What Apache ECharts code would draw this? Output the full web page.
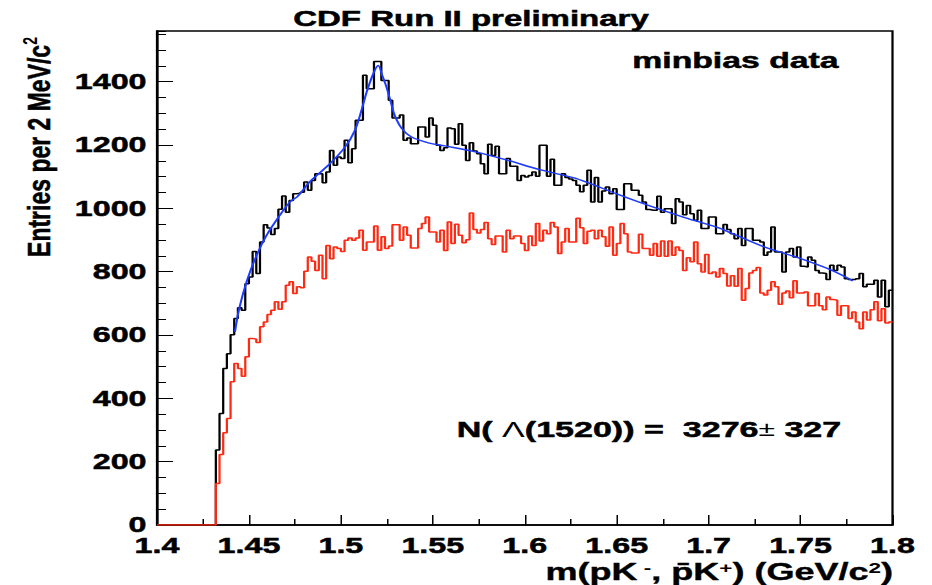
<!DOCTYPE html>
<html><head><meta charset="utf-8">
<script src="https://cdn.jsdelivr.net/npm/echarts@6/dist/echarts.min.js"></script>
<style>
html,body{margin:0;padding:0;background:#fff;overflow:hidden;width:932px;height:585px;}
#main{width:621.333px;height:585px;transform:scaleX(1.5);transform-origin:0 0;}
</style></head><body><div id="main"></div>
<script>
// ---- data ----
const massMin = 1.4, massMax = 1.8, binWidth = 0.002;

// black histogram: minbias data, entries per 2 MeV bin (200 bins, 1.400-1.800)
const dataCounts = [
  0,0,0,0,0,0,0,0,0,0,0,0,0,0,0,0,
  237,352,494,541,601,652,686,678,762,783,864,794,894,948,938,917,936,997,1039,988,
  1025,1046,1048,1051,1083,1057,1088,1109,1109,1081,1115,1183,1136,1162,1157,1215,1144,1188,1278,1278,
  1420,1378,1378,1464,1464,1404,1404,1341,1285,1285,1295,1215,1222,1204,1204,1257,1257,1225,1285,1262,
  1199,1183,1191,1254,1251,1202,1267,1199,1151,1207,1181,1172,1141,1109,1202,1167,1196,1109,1109,1157,
  1133,1133,1088,1104,1099,1104,1115,1101,1199,1199,1101,1155,1073,1073,1109,1097,1093,1088,1073,1052,
  1073,1120,1020,1097,1020,1055,1067,1046,1062,996,996,1078,1078,1057,1057,1041,1020,996,994,994,
  1038,988,999,999,952,1030,1020,980,1009,983,962,994,936,936,973,973,920,920,949,933,
  920,904,936,883,936,936,899,899,894,852,862,941,862,862,799,862,873,846,878,817,
  815,846,836,804,796,794,775,820,804,820,815,778,775,775,778,794,752,760,760,773,
  720,773,689,741
];

// red histogram
const bkgCounts = [
  0,0,0,0,0,0,0,0,0,0,0,0,0,0,0,0,
  131,223,291,336,452,510,494,470,531,589,587,576,626,641,665,678,705,681,705,757,
  768,731,752,749,801,846,833,804,852,778,883,841,878,873,864,899,906,899,906,931,
  868,894,894,944,868,910,873,881,948,948,899,941,915,875,875,936,952,973,925,925,
  894,931,867,957,889,950,915,891,901,985,933,922,933,955,904,886,913,913,862,931,
  904,913,913,889,867,913,883,952,897,931,920,955,941,857,894,936,894,894,969,939,
  889,928,931,904,931,910,880,941,852,889,952,920,862,859,859,918,873,873,852,889,
  849,897,849,897,852,878,867,804,844,831,894,825,799,854,794,799,783,810,794,755,
  787,754,810,710,747,796,804,813,733,726,741,768,752,697,733,739,718,771,733,733,
  736,692,692,731,692,680,720,712,710,662,692,692,652,673,641,620,673,647,680,705,
  645,683,638,641
];

// blue fit curve [mass, entries]
const fitMass = [1.4424,1.4447,1.4487,1.4542,1.4596,1.4668,1.4723,1.4765,1.4833,1.4931,1.5022,1.5076,1.5112,1.5140,1.5176,1.5203,1.5225,1.5248,1.5272,1.5293,1.5330,1.5384,1.5475,1.5565,1.5719,1.5900,1.6082,1.6263,1.6340,1.6507,1.6688,1.6870,1.7051,1.7130,1.7295,1.7476,1.7658,1.7784];
const fitValue = [610,683,768,852,915,978,1020,1038,1085,1136,1193,1246,1309,1367,1425,1451,1420,1383,1335,1293,1253,1225,1207,1197,1180,1153,1122,1097,1082,1044,1006,971,939,920,880,846,807,771];

const xTickLabels = ['1.4','1.45','1.5','1.55','1.6','1.65','1.7','1.75','1.8'];
const yTickLabels = ['0','200','400','600','800','1000','1200','1400'];

// ---- build ----
function histPoints(counts){
  const pts = counts.map((c,i)=>[+(massMin + i*binWidth).toFixed(4), c]);
  pts.push([massMax, counts[counts.length-1]]);
  return pts;
}
const FONT = '"Liberation Sans", Arial, Helvetica, sans-serif';
const chart = echarts.init(document.getElementById('main'), null, {renderer:'svg'});
const tickLbl = {fontFamily: FONT, fontWeight: 'bold', fontSize: 21.5, lineHeight: 14, color: '#000',
                 textBorderColor: '#000', textBorderWidth: 0.5};
const heavy = {stroke: '#000', lineWidth: 0.5};

chart.setOption({
  animation: false,
  backgroundColor: '#fff',
  grid: {left: 104.67, right: 26, top: 31, bottom: 60, show: true, borderColor: '#000', borderWidth: 1.5, backgroundColor: 'transparent'},
  xAxis: {
    type: 'value', min: massMin, max: massMax, interval: 0.05,
    axisLine: {show: true, lineStyle: {color: '#000', width: 1.5}},
    axisTick: {show: true, inside: true, length: 10, lineStyle: {color: '#000', width: 1}},
    minorTick: {show: true, splitNumber: 2, length: 6, lineStyle: {color: '#000', width: 1}},
    splitLine: {show: false},
    axisLabel: Object.assign({margin: 14, formatter: v => xTickLabels[Math.round((v - massMin)/0.05)] ?? ''}, tickLbl)
  },
  yAxis: [{
    type: 'value', min: 0, max: 1560, interval: 200, position: 'left',
    axisLine: {show: true, lineStyle: {color: '#000', width: 1.5}},
    axisTick: {show: true, inside: true, length: 10.7, lineStyle: {color: '#000', width: 1}},
    splitLine: {show: false},
    axisLabel: Object.assign({margin: 7, padding: [0,0,8,0], showMaxLabel: false, formatter: v => yTickLabels[Math.round(v/200)] ?? ''}, tickLbl)
  }, {
    type: 'value', min: 0, max: 1560, interval: 50, position: 'left',
    axisLine: {show: false},
    axisTick: {show: true, inside: true, length: 6, lineStyle: {color: '#000', width: 1}},
    splitLine: {show: false},
    axisLabel: {show: false}
  }],
  series: [
    {type: 'line', name: 'data', data: histPoints(dataCounts), step: 'end', showSymbol: false, symbol: 'none',
     lineStyle: {color: '#000', width: 1.5}, z: 2},
    {type: 'line', name: 'bkg', data: histPoints(bkgCounts), step: 'end', showSymbol: false, symbol: 'none',
     lineStyle: {color: '#ff2a12', width: 1.5}, z: 3},
    {type: 'line', name: 'fit', data: fitMass.map((m,i)=>[m, fitValue[i]]), smooth: 0.35, showSymbol: false, symbol: 'none',
     lineStyle: {color: '#1e3cff', width: 1.4}, z: 4}
  ],
  graphic: [
    {type: 'text', x: 314, y: 19, z: 10,
     style: Object.assign({text: 'CDF Run II preliminary', font: 'bold 22px ' + FONT, fill: '#000',
             align: 'center', verticalAlign: 'middle', textAlign: 'center', textVerticalAlign: 'middle'}, heavy)},
    {type: 'text', x: 559, y: 60, z: 10,
     style: Object.assign({text: 'minbias data', font: 'bold 22.5px ' + FONT, fill: '#000',
             align: 'right', verticalAlign: 'middle', textAlign: 'right', textVerticalAlign: 'middle'}, heavy)},
    {type: 'text', x: 304.5, y: 429, z: 10,
     style: {text: '{b|N( }{l|Λ}{b|(1520)) =  3276}{p|±}{b| 327}', fill: '#000',
             align: 'left', verticalAlign: 'middle', textAlign: 'left', textVerticalAlign: 'middle',
             rich: {
               b: {fontFamily: FONT, fontWeight: 'bold', fontSize: 22.7, fill: '#000', stroke: '#000', lineWidth: 0.5},
               l: {fontFamily: FONT, fontWeight: 'normal', fontSize: 22.7, fill: '#000'},
               p: {fontFamily: FONT, fontWeight: 'normal', fontSize: 20, fill: '#000'}
             }}},
    {type: 'text', x: 26, y: 147, rotation: Math.PI/2, scaleY: 0.92, z: 10,
     style: {text: '{t|Entries per 2 MeV/c}{s|2}', fill: '#000',
             align: 'center', verticalAlign: 'middle', textAlign: 'center', textVerticalAlign: 'middle',
             rich: {
               t: {fontFamily: FONT, fontWeight: 'bold', fontSize: 23, lineHeight: 26, fill: '#000', stroke: '#000', lineWidth: 0.4},
               s: {fontFamily: FONT, fontWeight: 'bold', fontSize: 14, lineHeight: 12, verticalAlign: 'top', fill: '#000'}
             }}},
    {type: 'text', x: 595.3, y: 571.5, z: 10,
     style: {text: '{t|m(pK}{s| -}{t|, p\u0304K}{s|+}{t|) (GeV/c}{s|2}{t|)}', fill: '#000',
             align: 'right', verticalAlign: 'middle', textAlign: 'right', textVerticalAlign: 'middle',
             rich: {
               t: {fontFamily: FONT, fontWeight: 'bold', fontSize: 24, lineHeight: 23, fill: '#000', stroke: '#000', lineWidth: 0.4},
               s: {fontFamily: FONT, fontWeight: 'bold', fontSize: 15, lineHeight: 10, verticalAlign: 'top', fill: '#000'}
             }}}
  ]
});
</script></body></html>
